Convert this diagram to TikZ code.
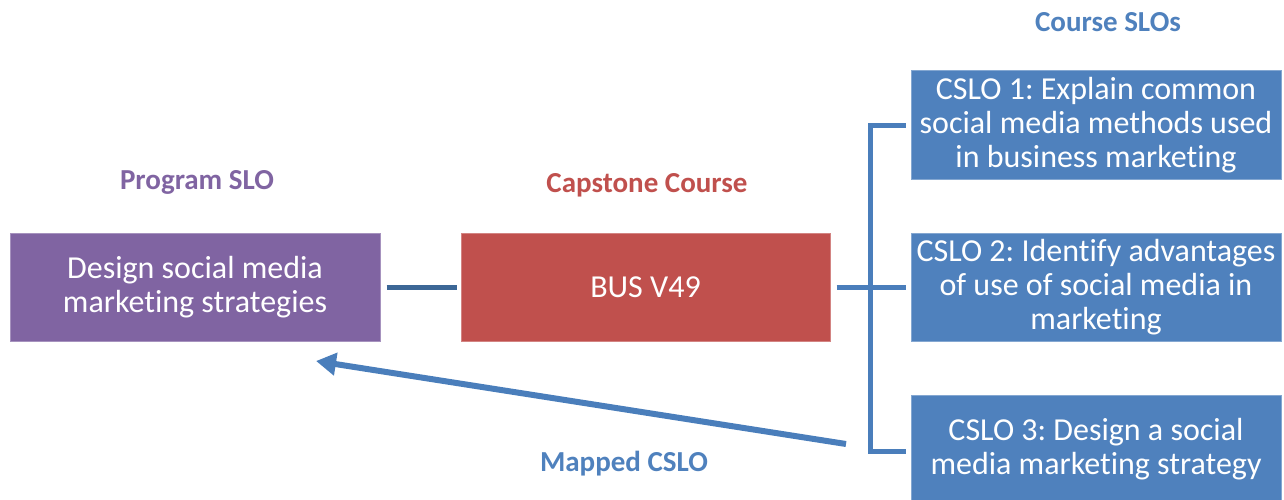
\documentclass[tikz,border=0pt]{standalone}
\usepackage{fontspec}
\setmainfont{Carlito}[Ligatures=NoCommon]
\frenchspacing
\usetikzlibrary{arrows.meta}
\definecolor{cpurple}{HTML}{8064A2}
\definecolor{cred}{HTML}{C0504D}
\definecolor{cblue}{HTML}{4F81BD}
\definecolor{cline}{HTML}{4A7EBB}
\definecolor{cdark}{HTML}{3C6796}
\tikzset{
  box/.style={rectangle, minimum width=370, minimum height=108, inner sep=1pt,
    text=white, align=center, font=\fontsize{32}{34}\selectfont, line width=1pt},
  lbl/.style={font=\bfseries\fontsize{29}{32}\selectfont},
  conn/.style={line width=5pt},
}
\begin{document}
\begin{tikzpicture}[x=1pt,y=-1pt]
\useasboundingbox (0,0) rectangle (1284,500);
\node[box, fill=cpurple, draw=cpurple!70!white] (p) at (195,287) {Design social media\\marketing strategies};
\node[box, fill=cred, draw=cred!70!white, minimum width=369] (r) at (645.5,287) {BUS V49};
\node[box, fill=cblue, draw=cblue!70!white] (c1) at (1096,125) {CSLO 1: Explain common\\social media methods used\\in business marketing};
\node[box, fill=cblue, draw=cblue!70!white] (c2) at (1096,287) {CSLO 2: Identify advantages\\of use of social media in\\marketing};
\node[box, fill=cblue, draw=cblue!70!white] (c3) at (1096,449) {CSLO 3: Design a social\\media marketing strategy};
\node[lbl, text=cblue] (t1) at (1108,22) {Course SLOs};
\node[lbl, text=cpurple] (t2) at (197,182) {Program SLO};
\node[lbl, text=cred] (t3) at (647,185) {Capstone Course};
\node[lbl, text=cblue] (t4) at (624,464) {Mapped CSLO};
\draw[conn, cdark] ([xshift=6]p.east) -- ([xshift=-4]r.west);
\draw[conn, cline] ([xshift=6]r.east) -- ([xshift=-5]c2.west);
\draw[conn, cline] ([xshift=-5,yshift=-1]c1.west) -| ([xshift=-40,yshift=-2]c3.west) -- ([xshift=-5,yshift=-2]c3.west);
\coordinate (tail) at (846,444);
\coordinate (tip) at (316,361);
\draw[line width=6pt, cline, -{Triangle[length=20pt,width=22pt]}] (tail) -- (tip);
\end{tikzpicture}
\end{document}
